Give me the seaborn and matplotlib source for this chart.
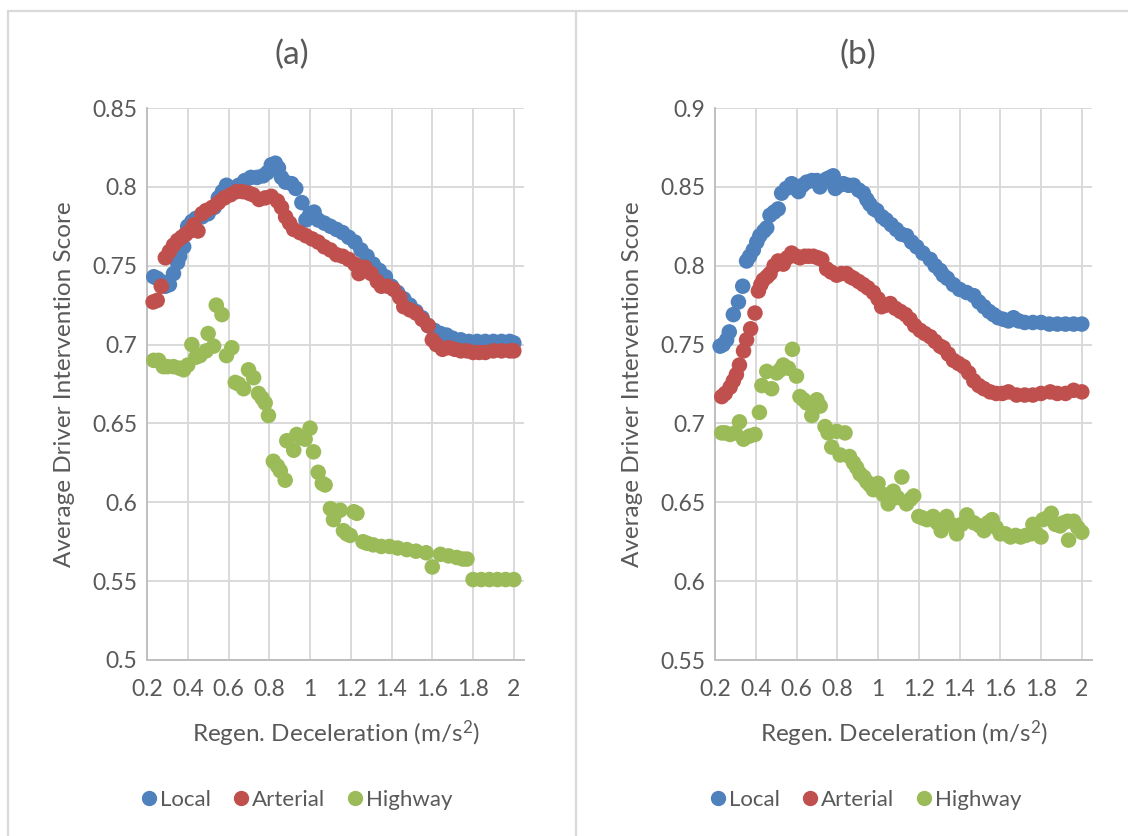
import matplotlib
matplotlib.use("Agg")
import matplotlib.pyplot as plt
from matplotlib.lines import Line2D
import seaborn as sns
import pandas as pd

# ---------------- data ----------------
series_names = ["Local", "Arterial", "Highway"]
series_colors = ["#4F81BD", "#C0504D", "#9BBB59"]

x_ticks = [0.2, 0.4, 0.6, 0.8, 1.0, 1.2, 1.4, 1.6, 1.8, 2.0]
x_tick_labels = ["0.2", "0.4", "0.6", "0.8", "1", "1.2", "1.4", "1.6", "1.8", "2"]
a_y_ticks = [0.5, 0.55, 0.6, 0.65, 0.7, 0.75, 0.8, 0.85]
a_y_tick_labels = ["0.5", "0.55", "0.6", "0.65", "0.7", "0.75", "0.8", "0.85"]
b_y_ticks = [0.55, 0.6, 0.65, 0.7, 0.75, 0.8, 0.85, 0.9]
b_y_tick_labels = ["0.55", "0.6", "0.65", "0.7", "0.75", "0.8", "0.85", "0.9"]

# Panel (a)
a_local_x = [0.233, 0.25, 0.27, 0.29, 0.31, 0.33, 0.35, 0.36, 0.38, 0.39, 0.40, 0.42, 0.44, 0.47,
             0.50, 0.53, 0.55, 0.57, 0.59, 0.62, 0.65, 0.68, 0.71, 0.74, 0.77, 0.79, 0.81, 0.83,
             0.845, 0.86, 0.88, 0.91, 0.93, 0.96, 0.98, 1.00, 1.02, 1.04, 1.07, 1.10, 1.13, 1.16,
             1.19, 1.22, 1.25, 1.28, 1.31, 1.34, 1.37, 1.40, 1.43, 1.46, 1.49, 1.52, 1.55, 1.58,
             1.61, 1.64, 1.67, 1.70, 1.74, 1.78, 1.82, 1.86, 1.90, 1.94, 1.98, 2.00]
a_local_y = [0.743, 0.742, 0.740, 0.737, 0.738, 0.745, 0.752, 0.756, 0.762, 0.770, 0.775, 0.778, 0.780, 0.781,
             0.783, 0.787, 0.793, 0.797, 0.801, 0.799, 0.801, 0.804, 0.806, 0.806, 0.807, 0.809, 0.814, 0.815,
             0.812, 0.806, 0.803, 0.802, 0.799, 0.790, 0.779, 0.783, 0.784, 0.779, 0.777, 0.775, 0.773, 0.771,
             0.768, 0.765, 0.760, 0.756, 0.751, 0.747, 0.743, 0.737, 0.733, 0.729, 0.725, 0.721, 0.717, 0.712,
             0.709, 0.707, 0.706, 0.704, 0.703, 0.702, 0.702, 0.702, 0.702, 0.702, 0.702, 0.701]

a_art_x = [0.23, 0.25, 0.27, 0.29, 0.31, 0.33, 0.35, 0.37, 0.39, 0.41, 0.43, 0.45, 0.47, 0.49, 0.52,
           0.55, 0.58, 0.61, 0.64, 0.67, 0.70, 0.72, 0.75, 0.78, 0.81, 0.84, 0.86, 0.88, 0.90, 0.92,
           0.95, 0.98, 1.01, 1.04, 1.07, 1.10, 1.13, 1.16, 1.19, 1.22, 1.24, 1.27, 1.30, 1.33, 1.35,
           1.38, 1.41, 1.44, 1.46, 1.49, 1.52, 1.55, 1.58, 1.60, 1.62, 1.65, 1.68, 1.71, 1.74, 1.77,
           1.80, 1.83, 1.86, 1.90, 1.94, 1.98, 2.00]
a_art_y = [0.727, 0.728, 0.737, 0.755, 0.759, 0.763, 0.766, 0.768, 0.770, 0.772, 0.776, 0.772, 0.783, 0.785, 0.787,
           0.790, 0.793, 0.795, 0.797, 0.797, 0.796, 0.795, 0.792, 0.793, 0.794, 0.791, 0.787, 0.781, 0.777, 0.773,
           0.771, 0.769, 0.767, 0.765, 0.762, 0.760, 0.757, 0.756, 0.754, 0.751, 0.745, 0.749, 0.745, 0.740, 0.737,
           0.737, 0.735, 0.730, 0.724, 0.722, 0.720, 0.716, 0.712, 0.703, 0.700, 0.697, 0.698, 0.697, 0.696, 0.696,
           0.695, 0.695, 0.695, 0.696, 0.696, 0.696, 0.696]

a_hwy_x = [0.233, 0.257, 0.28, 0.30, 0.33, 0.36, 0.38, 0.40, 0.42, 0.44, 0.46, 0.49, 0.50, 0.527, 0.54,
           0.568, 0.59, 0.616, 0.633, 0.65, 0.674, 0.698, 0.723, 0.747, 0.765, 0.78, 0.796, 0.82, 0.84,
           0.854, 0.878, 0.886, 0.92, 0.935, 0.955, 0.976, 1.0, 1.017, 1.04, 1.06, 1.074, 1.10, 1.115,
           1.13, 1.148, 1.164, 1.18, 1.197, 1.215, 1.23, 1.26, 1.28, 1.31, 1.35, 1.39, 1.43, 1.475, 1.52,
           1.57, 1.60, 1.64, 1.68, 1.72, 1.75, 1.77, 1.80, 1.84, 1.88, 1.92, 1.96, 2.00]
a_hwy_y = [0.690, 0.690, 0.686, 0.686, 0.686, 0.685, 0.684, 0.687, 0.700, 0.692, 0.693, 0.696, 0.707, 0.699, 0.725,
           0.719, 0.693, 0.698, 0.676, 0.675, 0.672, 0.684, 0.679, 0.669, 0.666, 0.663, 0.655, 0.626, 0.623,
           0.620, 0.614, 0.639, 0.633, 0.643, 0.641, 0.640, 0.647, 0.632, 0.619, 0.612, 0.611, 0.596, 0.589,
           0.594, 0.595, 0.582, 0.580, 0.579, 0.594, 0.593, 0.575, 0.574, 0.573, 0.572, 0.572, 0.571, 0.570, 0.569,
           0.568, 0.559, 0.567, 0.566, 0.565, 0.564, 0.564, 0.551, 0.551, 0.551, 0.551, 0.551, 0.551]

# Panel (b)
b_local_x = [0.225, 0.24, 0.257, 0.27, 0.29, 0.315, 0.336, 0.355, 0.37, 0.388, 0.405, 0.42, 0.44, 0.454,
             0.47, 0.49, 0.51, 0.527, 0.55, 0.576, 0.595, 0.61, 0.63, 0.65, 0.675, 0.70, 0.715, 0.73,
             0.748, 0.765, 0.78, 0.79, 0.81, 0.83, 0.855, 0.88, 0.905, 0.928, 0.945, 0.96, 0.98, 0.994,
             1.02, 1.04, 1.065, 1.09, 1.115, 1.14, 1.165, 1.19, 1.22, 1.256, 1.28, 1.305, 1.32, 1.34,
             1.37, 1.40, 1.435, 1.47, 1.495, 1.52, 1.545, 1.567, 1.59, 1.616, 1.64, 1.665, 1.69, 1.72,
             1.76, 1.80, 1.84, 1.88, 1.92, 1.96, 2.00]
b_local_y = [0.749, 0.750, 0.753, 0.758, 0.769, 0.777, 0.787, 0.803, 0.806, 0.810, 0.815, 0.819, 0.822, 0.824,
             0.832, 0.834, 0.836, 0.846, 0.849, 0.852, 0.849, 0.847, 0.851, 0.853, 0.854, 0.854, 0.850, 0.853,
             0.855, 0.856, 0.857, 0.849, 0.851, 0.852, 0.851, 0.851, 0.848, 0.846, 0.842, 0.839, 0.836, 0.835,
             0.831, 0.829, 0.826, 0.823, 0.820, 0.819, 0.815, 0.812, 0.808, 0.804, 0.800, 0.797, 0.794, 0.792,
             0.788, 0.785, 0.783, 0.781, 0.777, 0.774, 0.771, 0.769, 0.767, 0.766, 0.765, 0.767, 0.765, 0.764,
             0.764, 0.764, 0.763, 0.763, 0.763, 0.763, 0.763]

b_art_x = [0.233, 0.25, 0.274, 0.29, 0.305, 0.32, 0.34, 0.355, 0.375, 0.396, 0.413, 0.425, 0.437, 0.455,
           0.47, 0.49, 0.51, 0.535, 0.555, 0.576, 0.60, 0.617, 0.64, 0.66, 0.683, 0.705, 0.724, 0.748,
           0.77, 0.797, 0.82, 0.846, 0.865, 0.88, 0.905, 0.928, 0.95, 0.977, 1.0, 1.018, 1.04, 1.06,
           1.085, 1.11, 1.135, 1.157, 1.18, 1.207, 1.23, 1.256, 1.28, 1.305, 1.32, 1.345, 1.37, 1.395,
           1.42, 1.445, 1.47, 1.495, 1.52, 1.55, 1.58, 1.61, 1.64, 1.68, 1.72, 1.76, 1.80, 1.845, 1.88,
           1.92, 1.96, 2.00]
b_art_y = [0.717, 0.719, 0.723, 0.727, 0.731, 0.737, 0.746, 0.753, 0.760, 0.770, 0.784, 0.788, 0.791, 0.793,
           0.795, 0.800, 0.803, 0.801, 0.805, 0.808, 0.806, 0.805, 0.806, 0.806, 0.806, 0.805, 0.804, 0.798,
           0.796, 0.794, 0.795, 0.795, 0.793, 0.792, 0.790, 0.788, 0.786, 0.783, 0.779, 0.774, 0.775, 0.776,
           0.773, 0.771, 0.769, 0.766, 0.762, 0.759, 0.757, 0.755, 0.752, 0.749, 0.748, 0.744, 0.740, 0.738,
           0.736, 0.732, 0.727, 0.724, 0.722, 0.720, 0.719, 0.719, 0.720, 0.718, 0.718, 0.718, 0.719, 0.720, 0.719,
           0.719, 0.721, 0.720]

b_hwy_x = [0.233, 0.25, 0.274, 0.30, 0.32, 0.34, 0.37, 0.396, 0.418, 0.43, 0.454, 0.478, 0.503, 0.52,
           0.535, 0.56, 0.58, 0.60, 0.617, 0.635, 0.65, 0.675, 0.70, 0.716, 0.74, 0.755, 0.773, 0.797,
           0.814, 0.838, 0.86, 0.88, 0.895, 0.912, 0.93, 0.945, 0.96, 0.977, 1.0, 1.025, 1.05, 1.075,
           1.095, 1.117, 1.14, 1.16, 1.175, 1.20, 1.22, 1.24, 1.27, 1.29, 1.31, 1.337, 1.36, 1.386,
           1.41, 1.436, 1.47, 1.50, 1.52, 1.54, 1.56, 1.58, 1.60, 1.625, 1.65, 1.675, 1.70, 1.725,
           1.75, 1.76, 1.78, 1.80, 1.81, 1.83, 1.85, 1.87, 1.894, 1.91, 1.93, 1.935, 1.96, 1.98, 2.00]
b_hwy_y = [0.694, 0.694, 0.693, 0.694, 0.701, 0.690, 0.692, 0.693, 0.707, 0.724, 0.733, 0.722, 0.732, 0.734,
           0.737, 0.735, 0.747, 0.730, 0.717, 0.715, 0.713, 0.705, 0.715, 0.711, 0.698, 0.694, 0.685, 0.695,
           0.680, 0.694, 0.679, 0.675, 0.672, 0.668, 0.666, 0.663, 0.661, 0.658, 0.662, 0.655, 0.649, 0.657,
           0.653, 0.666, 0.649, 0.652, 0.654, 0.641, 0.640, 0.639, 0.641, 0.637, 0.632, 0.641, 0.636, 0.630,
           0.636, 0.642, 0.637, 0.635, 0.632, 0.637, 0.639, 0.634, 0.630, 0.630, 0.628, 0.629, 0.628, 0.629,
           0.630, 0.636, 0.630, 0.628, 0.639, 0.640, 0.643, 0.636, 0.635, 0.637, 0.638, 0.626, 0.638, 0.634, 0.631]

# ---------------- styling ----------------
sns.set_theme(style="white")
plt.rcParams["font.family"] = ["Lato", "DejaVu Sans"]
plt.rcParams["mathtext.fontset"] = "custom"
plt.rcParams["mathtext.rm"] = "Lato"
plt.rcParams["mathtext.default"] = "regular"
TEXT = "#595959"
GRID = "#D9D9D9"


def panel_frame(xs, ys):
    parts = []
    for name, x, y in zip(series_names, xs, ys):
        parts.append(pd.DataFrame({"x": x, "y": y, "Road": name}))
    return pd.concat(parts, ignore_index=True)


df_a = panel_frame([a_local_x, a_art_x, a_hwy_x], [a_local_y, a_art_y, a_hwy_y])
df_b = panel_frame([b_local_x, b_art_x, b_hwy_x], [b_local_y, b_art_y, b_hwy_y])

W, H = 1128, 836
fig = plt.figure(figsize=(W / 100, H / 100), dpi=100)
fig.patch.set_facecolor("white")

ax_a = fig.add_axes([147 / W, 1 - 660 / H, 377 / W, 552 / H])
ax_b = fig.add_axes([715 / W, 1 - 660 / H, 377 / W, 552 / H])

palette = dict(zip(series_names, series_colors))

for ax, df, yticks, ylabels, title, tx in [
    (ax_a, df_a, a_y_ticks, a_y_tick_labels, "(a)", 292),
    (ax_b, df_b, b_y_ticks, b_y_tick_labels, "(b)", 858),
]:
    sns.scatterplot(data=df, x="x", y="y", hue="Road", hue_order=series_names,
                    palette=palette, s=125, linewidth=0, alpha=1, legend=False,
                    ax=ax, clip_on=False, zorder=3)
    ax.set_xlim(0.2, 2.05)
    ax.set_ylim(yticks[0], yticks[-1])
    ax.set_xticks(x_ticks)
    ax.set_xticklabels(x_tick_labels)
    ax.set_yticks(yticks)
    ax.set_yticklabels(ylabels)
    ax.grid(True, color=GRID, linewidth=1.4)
    ax.set_axisbelow(True)
    for side in ["top", "right"]:
        ax.spines[side].set_visible(False)
    for side in ["left", "bottom"]:
        ax.spines[side].set_color("#BFBFBF")
        ax.spines[side].set_linewidth(1.4)
    ax.tick_params(axis="both", length=0, labelsize=16.5, colors=TEXT)
    ax.tick_params(axis="x", pad=14)
    ax.tick_params(axis="y", pad=7)
    ax.set_xlabel("Regen. Deceleration (m/s$^{2}$)", fontsize=17.5, color=TEXT, labelpad=13)
    ax.set_ylabel("Average Driver Intervention Score", fontsize=17.5, color=TEXT, labelpad=12)
    ax.set_facecolor("white")
    fig.text(tx / W, 1 - 55 / H, title, ha="center", va="center", fontsize=24, color=TEXT)

    handles = [Line2D([], [], marker="o", ls="", color=c, markersize=10) for c in series_colors]
    lx = 296 if ax is ax_a else 865
    fig.legend(handles, series_names, loc="center", bbox_to_anchor=(lx / W, 1 - 800 / H),
               ncol=3, frameon=False, handletextpad=0.05, columnspacing=0.9,
               fontsize=16, labelcolor=TEXT, handlelength=0.9)

# chart borders
border_kw = dict(transform=fig.transFigure, color=GRID, linewidth=1.6)
fig.add_artist(Line2D([8 / W, 1], [1 - 11 / H, 1 - 11 / H], **border_kw))
fig.add_artist(Line2D([8 / W, 8 / W], [0, 1 - 11 / H], **border_kw))
fig.add_artist(Line2D([576 / W, 576 / W], [0, 1 - 11 / H], **border_kw))

fig.savefig("out.png", dpi=100)
